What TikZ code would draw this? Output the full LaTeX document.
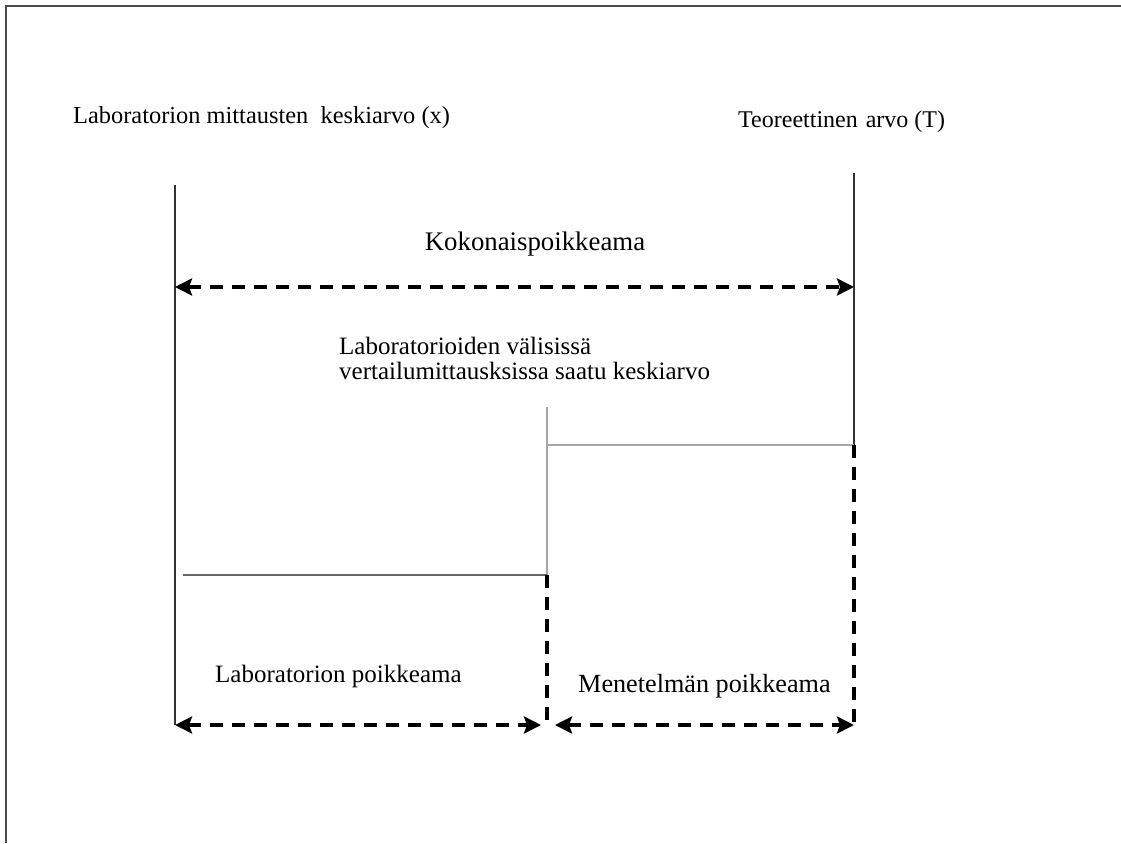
\documentclass[tikz,border=0pt]{standalone}
\usepackage{fontspec}
\setmainfont{Liberation Serif}
\usetikzlibrary{arrows.meta}
\tikzset{%
  lbl/.style={anchor=base west,inner sep=0,font=\fontsize{25}{30}\selectfont},
  frameedge/.style={draw=black!70,line width=1.5pt},
  sedge/.style={draw=black!80,line width=1.2pt},
  gedge/.style={draw=black!35,line width=1.6pt},
  dedge/.style={draw=black,line width=4pt,dash pattern=on 13pt off 9pt},
  dimarrow/.style={dedge,{Stealth[length=17pt,width=17pt,inset=3pt]}-{Stealth[length=17pt,width=17pt,inset=3pt]}}
}

\begin{document}
\begin{tikzpicture}[x=1pt,y=-1pt]
    \useasboundingbox (0,0) rectangle (1121,843);
    % frame
    \draw[frameedge] (6,843) -- (6,6) -- (1121,6);
    % labels
    \node[lbl,font=\fontsize{24.4}{30}\selectfont] (mean) at (73,123) {Laboratorion mittausten\ \ keskiarvo (x)};
    \node[lbl,font=\fontsize{24}{30}\selectfont] (theo) at (738,127) {Teoreettinen\hspace{8pt}arvo (T)};
    \node[lbl,anchor=base,font=\fontsize{26.8}{30}\selectfont] (total) at (535,250) {Kokonaispoikkeama};
    \node[lbl] (inter1) at (339,354) {Laboratorioiden välisissä};
    \node[lbl] (inter2) at (339,379) {vertailumittausksissa saatu keskiarvo};
    \node[lbl] (labdev) at (215,682) {Laboratorion poikkeama};
    \node[lbl,font=\fontsize{26.2}{30}\selectfont] (methdev) at (578,692) {Menetelmän poikkeama};
    % levels
    \coordinate (xtop) at (175,185);
    \coordinate (xbot) at (175,725);
    \coordinate (ttop) at (854,173);
    \coordinate (tmid) at (854,445);
    \coordinate (tbot) at (854,725);
    \coordinate (itop) at (547,407);
    \coordinate (imid) at (547,575);
    \coordinate (ibot) at (547,725);
    \coordinate (lstart) at (183,575);
    \draw[sedge] (xtop) -- (xbot);
    \draw[sedge] (ttop) -- (tmid);
    \draw[gedge] (itop) -- (imid);
    \draw[gedge] (itop |- tmid) -- (tmid);
    \draw[sedge,draw=black!60] (lstart) -- (imid);
    \draw[dedge] (tmid) -- (tbot);
    \draw[dedge] (imid) -- (ibot);
    % deviations
    \draw[dimarrow] (175,287) -- (854,287);
    \draw[dimarrow] (xbot) -- ([xshift=-6pt]ibot);
    \draw[dimarrow] ([xshift=8pt]ibot) -- (tbot);
\end{tikzpicture}
\end{document}
